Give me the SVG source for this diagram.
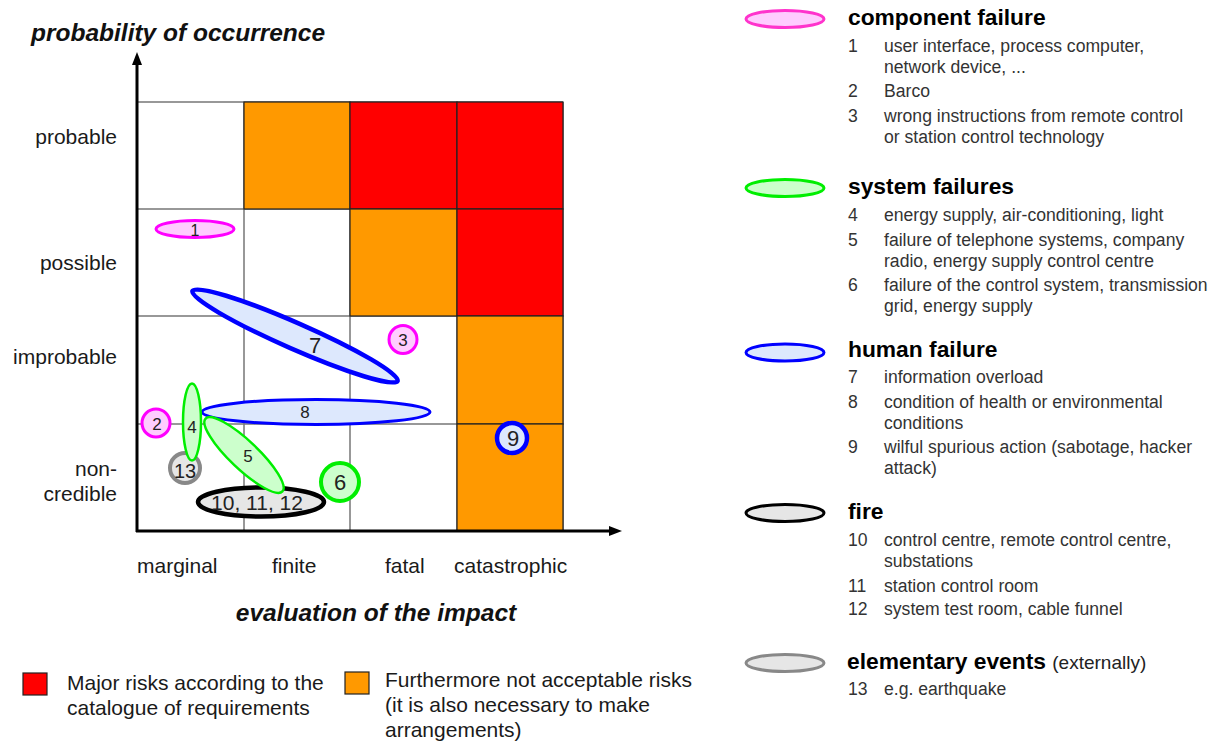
<svg xmlns="http://www.w3.org/2000/svg" width="1210" height="741" viewBox="0 0 1210 741">
<style>
text{font-family:"Liberation Sans",Arial,sans-serif;fill:#1a1a1a}
.axt{font-size:24.5px;font-weight:bold;font-style:italic;fill:#111}
.lab{font-size:21px}
.rl{font-size:21px;text-anchor:end}
.cl{font-size:21px}
.lt{font-size:22.8px;font-weight:bold;fill:#000}
.li{font-size:17.6px;fill:#333}
.bl{font-size:21px}
.num{text-anchor:middle;fill:#222}
.grid{stroke:#777;stroke-width:1.5;fill:none}
.red{fill:#ff0000;stroke:#222;stroke-width:1.2}
.org{fill:#ff9900;stroke:#222;stroke-width:1.2}
.pk{fill:#ffccff;stroke:#ff00ff}
.pkl{fill:#ffccff;stroke:#ff33cc;stroke-width:3}
.gr{fill:#ccffcc;stroke:#00ee00}
.bu{fill:#dde8fd;stroke:#0000ff}
.bk{fill:#e6e6e6;stroke:#000}
.gy{fill:#e6e6e6;stroke:#888}
.ax{stroke:#000;stroke-width:3;fill:none}
</style>

<text class="axt" x="31" y="41">probability of occurrence</text>

<g id="matrix">
  <rect x="137" y="102" width="426" height="429" fill="#fff"/>
  <path class="grid" d="M137 102H563M137 209H563M137 316H563M137 424H563M244 102V531M350 102V531M457 102V531M563 102V531"/>
  <rect class="org" x="244" y="102" width="106" height="107"/>
  <rect class="red" x="350" y="102" width="107" height="107"/>
  <rect class="red" x="457" y="102" width="106" height="107"/>
  <rect class="org" x="350" y="209" width="107" height="107"/>
  <rect class="red" x="457" y="209" width="106" height="107"/>
  <rect class="org" x="457" y="316" width="106" height="108"/>
  <rect class="org" x="457" y="424" width="106" height="107"/>
</g>

<g id="axes">
  <path class="ax" d="M137 532V62M136 531H610"/>
  <polygon points="137,52 132,65 142,65" fill="#000"/>
  <polygon points="622,531 609,526 609,536" fill="#000"/>
</g>

<g id="row-labels">
  <text class="rl" x="117" y="144">probable</text>
  <text class="rl" x="117" y="270">possible</text>
  <text class="rl" x="117" y="364">improbable</text>
  <text class="rl" x="117" y="476">non-</text>
  <text class="rl" x="117" y="501">credible</text>
</g>
<g id="col-labels">
  <text class="cl" x="137" y="573">marginal</text>
  <text class="cl" x="272" y="573">finite</text>
  <text class="cl" x="385" y="573">fatal</text>
  <text class="cl" x="454" y="573">catastrophic</text>
</g>
<text class="axt" x="376" y="621" text-anchor="middle">evaluation of the impact</text>

<g id="n1"><ellipse class="pk" cx="195" cy="229" rx="39" ry="8.5" stroke-width="3"/><text class="num" x="195" y="236" font-size="16" fill="#553366">1</text></g>
<g id="n7"><ellipse class="bu" cx="295" cy="336" rx="112" ry="13" stroke-width="4.5" transform="rotate(23.7 295 336)"/><text class="num" x="315" y="353" font-size="22">7</text></g>
<g id="n3"><circle class="pk" cx="403" cy="339.5" r="14" stroke-width="3"/><text class="num" x="403" y="346" font-size="17">3</text></g>
<g id="n8"><ellipse class="bu" cx="316" cy="412" rx="114" ry="12.5" stroke-width="3"/><text class="num" x="305" y="418" font-size="17">8</text></g>
<g id="n2"><circle class="pk" cx="156" cy="423" r="14" stroke-width="3"/><text class="num" x="157" y="430" font-size="17">2</text></g>
<g id="n9"><circle class="bu" cx="512" cy="438" r="15" stroke-width="4.5"/><text class="num" x="513" y="446" font-size="22">9</text></g>
<g id="n13"><circle class="gy" cx="185" cy="468" r="15" stroke-width="4"/><text class="num" x="185" y="478" font-size="20">13</text></g>
<g id="n4"><ellipse class="gr" cx="192" cy="422" rx="9" ry="38.5" stroke-width="2.5"/><text class="num" x="192" y="433" font-size="17">4</text></g>
<g id="n10-12"><ellipse class="bk" cx="261" cy="502" rx="63" ry="14.5" stroke-width="4.5"/><text class="num" x="257" y="510" font-size="21">10, 11, 12</text></g>
<g id="n5"><ellipse class="gr" cx="244" cy="455" rx="53" ry="14" stroke-width="2.5" transform="rotate(43.5 244 455)"/><text class="num" x="248" y="462" font-size="17">5</text></g>
<g id="n6"><circle class="gr" cx="340" cy="482" r="19" stroke-width="4"/><text class="num" x="340" y="490" font-size="22">6</text></g>

<g id="legend-component">
  <ellipse class="pkl" cx="785" cy="19" rx="39" ry="8.5"/>
  <text class="lt" x="848" y="25">component failure</text>
  <text class="li" x="848" y="52">1</text><text class="li" x="884" y="52">user interface, process computer,</text>
  <text class="li" x="884" y="73">network device, ...</text>
  <text class="li" x="848" y="97">2</text><text class="li" x="884" y="97">Barco</text>
  <text class="li" x="848" y="122">3</text><text class="li" x="884" y="122">wrong instructions from remote control</text>
  <text class="li" x="884" y="143">or station control technology</text>
</g>
<g id="legend-system">
  <ellipse class="gr" cx="785" cy="188" rx="39" ry="8.5" stroke-width="3"/>
  <text class="lt" x="848" y="194">system failures</text>
  <text class="li" x="848" y="221">4</text><text class="li" x="884" y="221">energy supply, air-conditioning, light</text>
  <text class="li" x="848" y="246">5</text><text class="li" x="884" y="246">failure of telephone systems, company</text>
  <text class="li" x="884" y="267">radio, energy supply control centre</text>
  <text class="li" x="848" y="291">6</text><text class="li" x="884" y="291">failure of the control system, transmission</text>
  <text class="li" x="884" y="312">grid, energy supply</text>
</g>
<g id="legend-human">
  <ellipse class="bu" cx="785" cy="352.5" rx="39" ry="8.5" stroke-width="3"/>
  <text class="lt" x="848" y="357">human failure</text>
  <text class="li" x="848" y="383">7</text><text class="li" x="884" y="383">information overload</text>
  <text class="li" x="848" y="408">8</text><text class="li" x="884" y="408">condition of health or environmental</text>
  <text class="li" x="884" y="429">conditions</text>
  <text class="li" x="848" y="453">9</text><text class="li" x="884" y="453">wilful spurious action (sabotage, hacker</text>
  <text class="li" x="884" y="474">attack)</text>
</g>
<g id="legend-fire">
  <ellipse class="bk" cx="785" cy="513" rx="39" ry="8.5" stroke-width="3"/>
  <text class="lt" x="848" y="519">fire</text>
  <text class="li" x="848" y="546">10</text><text class="li" x="884" y="546">control centre, remote control centre,</text>
  <text class="li" x="884" y="567">substations</text>
  <text class="li" x="848" y="592">11</text><text class="li" x="884" y="592">station control room</text>
  <text class="li" x="848" y="615">12</text><text class="li" x="884" y="615">system test room, cable funnel</text>
</g>
<g id="legend-elementary">
  <ellipse class="gy" cx="785" cy="663" rx="39" ry="8.5" stroke-width="3"/>
  <text class="lt" x="847" y="669">elementary events <tspan font-weight="normal" font-size="19" fill="#222">(externally)</tspan></text>
  <text class="li" x="848" y="695">13</text><text class="li" x="884" y="695">e.g. earthquake</text>
</g>

<g id="legend-major">
  <rect class="red" x="23" y="673" width="24" height="22"/>
  <text class="bl" x="67" y="690">Major risks according to the</text>
  <text class="bl" x="67" y="715">catalogue of requirements</text>
</g>
<g id="legend-notacceptable">
  <rect class="org" x="345" y="672" width="24" height="22"/>
  <text class="bl" x="385" y="687">Furthermore not acceptable risks</text>
  <text class="bl" x="385" y="712">(it is also necessary to make</text>
  <text class="bl" x="385" y="737">arrangements)</text>
</g>
</svg>
